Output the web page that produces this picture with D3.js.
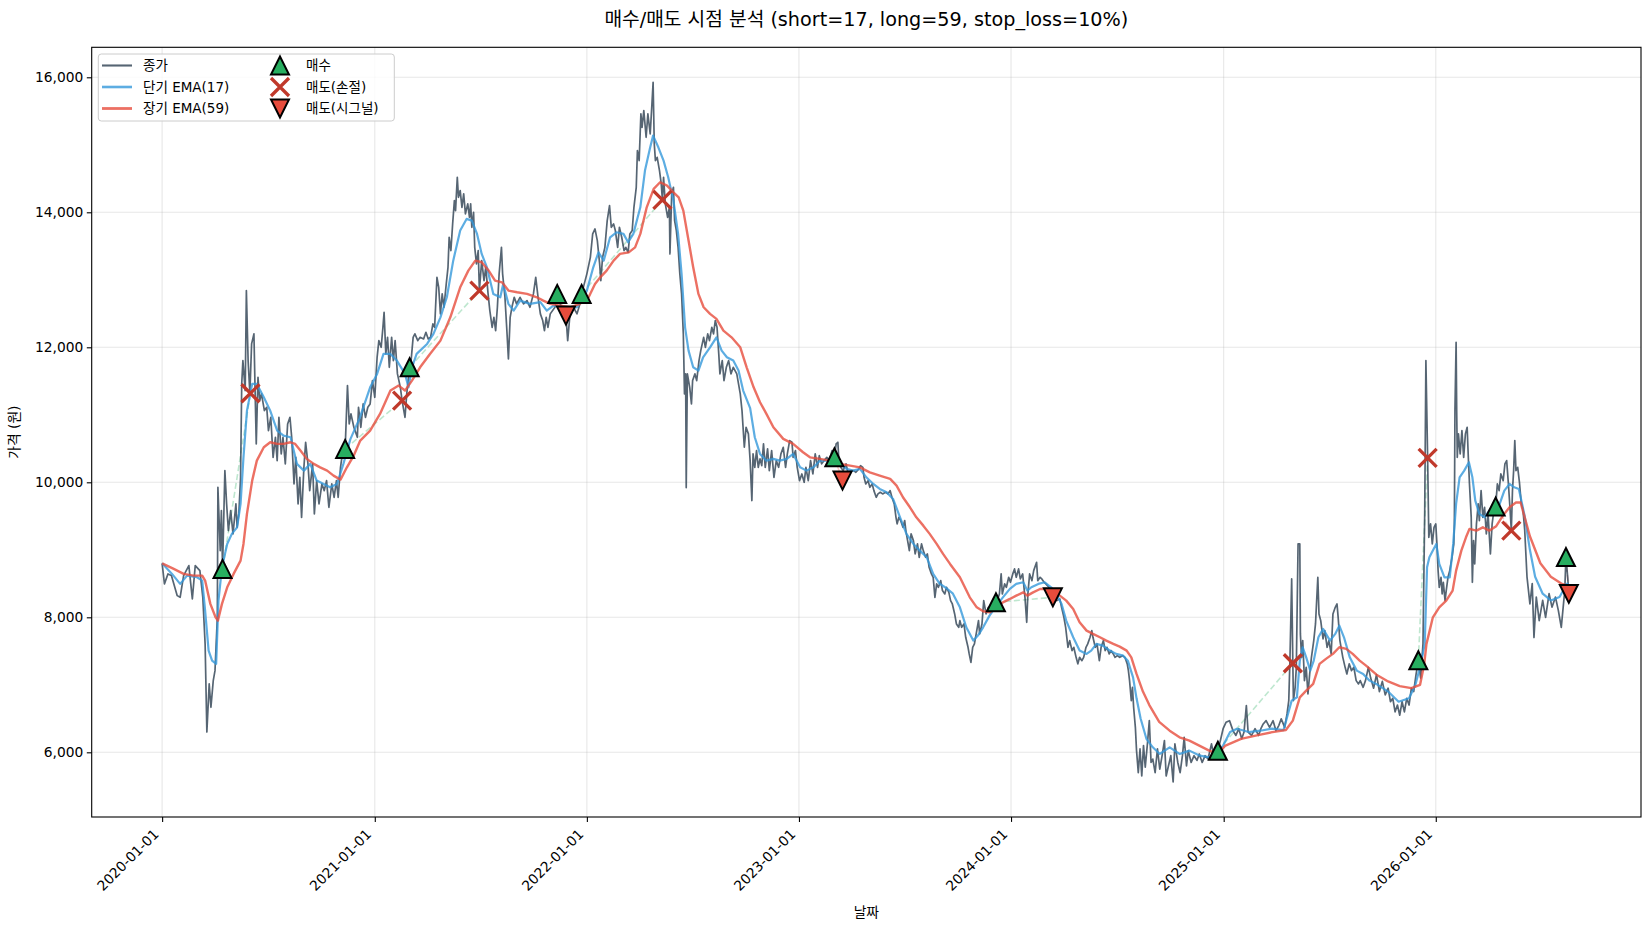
<!DOCTYPE html>
<html lang="ko">
<head>
<meta charset="utf-8">
<title>매수/매도 시점 분석</title>
<script src="https://d3js.org/d3.v7.min.js"></script>
<style>
  body { margin: 0; background: #fff; }
  svg { display: block; font-family: 'DejaVu Sans', 'Noto Sans CJK KR', sans-serif; }
  .grid line { stroke: #b0b0b0; stroke-opacity: 0.3; stroke-width: 1.1; }
  .axis path, .axis line { stroke: #000; stroke-width: 1.1; }
  .axis text { font-size: 13.8px; fill: #000; font-family: 'DejaVu Sans', 'Noto Sans CJK KR', sans-serif; }
  .legend text { font-size: 13.5px; fill: #000; }
</style>
</head>
<body>
<svg id="chart" width="1650" height="930"></svg>
<script>
// [days since baseDate, price]
const baseDate = '2020-01-01';

const closeSeries = [
  [0,8800],[4,8495],[10,8643],[16,8618],[26,8321],[31,8296],[37,8618],[46,8766],[52,8272],[57,8766],[65,8692],[70,8296],[74,7606],[77,6300],[81,7013],[84,6667],[88,7062],[91,7210],[95,8000],[96,9926],[100,8988],[102,9581],[104,8717],[108,10173],[111,9680],[114,9285],[118,9581],[122,9236],[127,9680],[129,9333],[132,9532],[135,10074],[137,11458],[139,11803],[143,11359],[145,12840],[148,11803],[151,11319],[154,12050],[158,12199],[160,11359],[162,10569],[165,11556],[168,11210],[171,11310],[176,11062],[180,11111],[183,10766],[187,10963],[191,10370],[195,10667],[198,10321],[201,10963],[205,10421],[208,10667],[212,10273],[216,10865],[220,10963],[223,10667],[227,9976],[230,10370],[234,9680],[237,10074],[240,9481],[244,10222],[247,10593],[251,10273],[254,9877],[259,10273],[262,9532],[266,10025],[270,9680],[275,9976],[279,9877],[283,10025],[287,9630],[292,9976],[296,9778],[300,10025],[303,9778],[307,10222],[311,10470],[315,10495],[319,11433],[322,10865],[325,11013],[330,10815],[336,10667],
  [338,11111],[342,10815],[346,11161],[350,10963],[354,11111],[358,11161],[362,11507],[366,11259],[370,11852],[373,12099],[377,12000],[380,12296],[382,12519],[385,11902],[388,12148],[391,11704],[395,12148],[398,11803],[401,12099],[405,11606],[410,11407],[413,11210],[418,10963],[421,11310],[424,11556],[426,11704],[428,11754],[432,12148],[435,12199],[440,12099],[444,12148],[450,12124],[454,12222],[458,12124],[462,12148],[466,12347],[469,12296],[473,13037],[476,12889],[479,12495],[482,12791],[485,12593],[489,12939],[492,13185],[494,13630],[497,13433],[500,13828],[503,14173],[505,14025],[508,14519],[510,14222],[513,14322],[516,14074],[519,14273],[522,13976],[526,14125],[529,13926],[531,14125],[533,13778],[536,14000],[538,13481],[541,13236],[544,13433],[546,12840],[550,13284],[554,12988],[557,13185],[561,12791],[564,12544],[568,12296],[571,12444],[574,12247],[577,12593],[580,13088],[584,13481],[586,13088],[590,12741],[593,12296],[596,11828],[599,12444],[602,12593],[606,12741],[610,12643],[616,12741],[622,12643],[628,12692],[633,12593],[639,12791],[643,13037],[647,12741],[651,12495],[655,12396],[658,12247],[661,12444],[664,12296],[668,12495],
  [676,12593],[680,12791],[685,12643],[692,12495],[695,12470],[698,12099],[702,12495],[708,12593],[714,12495],[719,12643],[722,12791],[731,13088],[737,13333],[741,13680],[745,13754],[749,13581],[753,13236],[755,12988],[758,13333],[762,13481],[766,13877],[770,14099],[773,13778],[777,13828],[780,13729],[784,13481],[787,13778],[791,13630],[795,13433],[798,13481],[802,13407],[805,13680],[809,13729],[812,14074],[816,14370],[818,14914],[821,14766],[824,15458],[826,15259],[829,15507],[833,15111],[836,15458],[840,15161],[843,15606],[845,15926],[847,15013],[849,14766],[852,14815],[856,14618],[859,14421],[861,14184],[863,14519],[866,14125],[870,13926],[873,14074],[874,13384],[877,14273],[880,14370],[882,13877],[885,13729],[888,13481],[891,13088],[894,12791],[897,12199],[899,11310],[901,11606],[902,9922],[904,11606],[908,11407],[911,11161],[913,11507],[917,11606],[920,11507],[924,11803],[927,11951],[932,12148],[935,12000],[939,12199],[942,12099],[946,12296],[949,12199],[952,12396],[955,12296],[958,11902],[960,11606],[964,11803],[967,11507],[971,11704],[975,11803],[979,11606],[983,11704],[989,11606],[995,11310],[998,11062],[1002,10519],[1005,10815],[1009,10717],[1012,10321],[1015,9729],
  [1017,10421],[1020,10222],[1023,10470],[1026,10222],[1029,10347],[1032,10247],[1035,10569],[1038,10222],[1042,10495],[1045,10173],[1049,10470],[1053,10074],[1057,10321],[1061,10222],[1065,10421],[1069,10519],[1073,10222],[1076,10421],[1080,10618],[1084,10594],[1086,10370],[1090,10470],[1093,10222],[1097,10025],[1101,10124],[1105,10000],[1108,10222],[1112,10025],[1116,10321],[1120,10124],[1124,10421],[1128,10222],[1131,10395],[1135,10273],[1139,10321],[1144,10370],[1148,10321],[1153,10470],[1157,10370],[1160,10569],[1163,10593],[1165,10273],[1168,10222],[1172,10173],[1177,10273],[1181,10124],[1185,10173],[1190,10173],[1194,10148],[1199,10198],[1202,10247],[1206,10222],[1208,10074],[1211,9976],[1215,10025],[1218,9926],[1222,9976],[1225,9877],[1229,9778],[1232,9828],[1236,9852],[1240,9828],[1245,9852],[1249,9828],[1253,9877],[1256,9778],[1260,9680],[1263,9481],[1265,9384],[1268,9481],[1271,9433],[1275,9333],[1278,9433],[1280,9285],[1283,9136],[1286,8988],[1289,9236],[1293,9136],[1296,8939],[1300,9087],[1303,8889],[1307,9087],[1310,8988],[1314,8889],[1317,8939],[1320,8741],[1324,8643],[1327,8593],[1330,8296],[1333,8495],[1336,8444],[1340,8543],[1343,8396],[1347,8346],[1350,8444],[1354,8370],[1357,8247],[1360,8198],[1364,8050],[1367,7902],[1371,7852],
  [1373,7951],[1376,7852],[1380,7901],[1383,7704],[1387,7556],[1389,7458],[1392,7333],[1395,7556],[1398,7606],[1402,7803],[1405,7951],[1407,7754],[1411,7901],[1414,8247],[1418,8050],[1422,8148],[1425,8099],[1429,8198],[1433,8296],[1435,8222],[1437,8247],[1441,8346],[1444,8643],[1446,8346],[1450,8495],[1453,8445],[1457,8593],[1460,8519],[1464,8643],[1467,8717],[1470,8593],[1474,8717],[1477,8568],[1481,8643],[1485,8296],[1488,7926],[1490,8346],[1493,8643],[1497,8543],[1500,8692],[1505,8815],[1507,8543],[1511,8593],[1514,8568],[1518,8519],[1521,8495],[1526,8445],[1529,8370],[1532,8296],[1536,8273],[1540,8247],[1545,8273],[1548,8148],[1552,8000],[1555,7852],[1559,7556],[1562,7655],[1566,7507],[1569,7556],[1573,7407],[1576,7310],[1579,7407],[1583,7358],[1586,7407],[1590,7556],[1593,7606],[1597,7704],[1600,7803],[1602,7704],[1606,7556],[1609,7606],[1613,7358],[1616,7556],[1620,7655],[1623,7507],[1626,7556],[1630,7458],[1633,7507],[1637,7458],[1640,7407],[1644,7432],[1648,7407],[1653,7432],[1657,7407],[1661,7310],[1663,7210],[1665,7062],[1668,6766],[1670,6963],[1672,6667],[1675,6370],[1677,6025],
  [1680,5700],[1683,6050],[1686,5650],[1689,6100],[1692,5780],[1696,6150],[1699,6469],[1702,5850],[1705,5900],[1709,5700],[1713,6050],[1717,5750],[1721,5950],[1725,6173],[1728,5650],[1732,5800],[1736,5950],[1740,5560],[1743,6124],[1748,5850],[1752,5700],[1756,5950],[1759,6222],[1763,5800],[1766,6025],[1771,5850],[1776,5950],[1781,5880],[1785,5976],[1790,5850],[1795,5950],[1800,5900],[1806,6124],[1810,5950],[1813,5900],[1817,6020],
  [1822,6200],[1826,6350],[1831,6444],[1837,6469],[1843,6321],[1848,6250],[1853,6350],[1858,6200],[1862,6300],[1866,6691],[1869,6300],[1875,6250],[1881,6350],[1887,6250],[1891,6350],[1895,6420],[1900,6469],[1906,6370],[1912,6469],[1917,6321],[1922,6400],[1926,6495],[1932,6370],[1936,6569],[1939,6766],[1941,7358],[1944,8569],[1946,7319],[1947,6766],[1950,6963],[1952,7259],[1955,9087],[1958,9087],[1959,7754],[1961,7407],[1963,7655],[1966,7062],[1969,7259],[1972,6865],[1975,7161],[1978,7407],[1982,7655],[1985,7902],[1989,8593],[1991,8050],[1994,7951],[1998,7680],[2001,7803],[2005,7556],[2008,7655],[2012,7458],[2015,8050],[2019,8148],[2022,8198],[2024,8000],[2027,7655],[2029,7556],[2032,7407],[2036,7259],[2039,7161],[2043,7310],[2047,7210],[2051,7259],[2055,7062],[2059,7013],[2062,7062],[2067,6963],[2071,7062],[2076,7259],
  [2080,7100],[2085,6950],[2090,7150],[2095,6900],[2100,7050],[2105,6850],[2110,6950],[2114,6750],[2118,6800],[2122,6600],[2126,6700],[2130,6550],[2134,6750],[2138,6600],[2142,6800],[2146,6700],[2150,6950],[2154,6900],[2158,7150],[2162,7364],[2166,7100],[2170,7606],[2173,9581],[2175,11803],[2178,10361],[2180,9185],[2183,9384],[2186,9087],[2189,9333],[2192,9384],[2194,9087],[2196,8692],[2198,8444],[2201,8593],[2203,8347],[2205,8519],[2208,8247],[2210,8395],[2213,8593],[2216,8692],[2218,8791],[2220,8889],[2223,9087],[2224,9384],[2225,11062],[2227,12074],[2228,11062],[2229,10370],[2231,10717],[2234,10421],[2237,10766],[2240,10370],[2243,10717],[2246,10815],[2248,10370],[2250,9976],[2253,9481],[2255,8519],[2257,9136],[2259,8790],[2262,9384],[2265,9680],[2267,9433],[2270,9877],[2273,9481],[2276,9630],[2279,9236],[2282,9532],[2286,8939],[2289,9384],[2292,9581],[2295,9640],[2298,9976],[2301,9877],[2304,10124],[2308,10025],[2311,10273],[2314,10322],[2317,9976],[2320,9581],[2322,9284],[2324,9877],[2326,10173],[2328,10618],[2330,10173],[2333,10222],[2336,10000],[2339,9700],[2342,9600],[2345,9300],[2349,8600],[2354,8200],[2358,8500],[2361,7700],[2365,8300],[2370,7950],[2376,8250],[2381,8000],[2387,8350],[2392,8150],[2398,8300],[2403,8100],[2408,7850],[2414,8400],[2416,8892],[2419,8600],[2421,8347],[2424,8400]
];

const emaShort = [
  [0,8800],[17,8643],[31,8495],[43,8618],[60,8593],[69,8544],[74,8099],[80,7507],[86,7358],[93,7310],[97,8247],[103,8741],[112,9087],[120,9236],[129,9333],[135,9680],[140,10370],[146,11062],[155,11458],[163,11458],[175,11259],[186,11062],[198,10766],[209,10692],[221,10667],[232,10273],[244,10173],[255,10273],[266,10025],[278,9976],[289,9926],[301,9976],[312,10273],[324,10640],[340,10950],[358,11407],[370,11606],[381,11902],[393,11902],[404,11803],[418,11606],[424,11407],[430,11704],[438,11902],[456,12050],[467,12199],[479,12444],[490,12741],[501,13284],[513,13729],[524,13902],[533,13877],[542,13680],[550,13384],[559,13185],[570,12791],[582,12741],[587,12939],[596,12643],[605,12544],[616,12692],[633,12643],[651,12670],[662,12544],[674,12620],[696,12569],[714,12593],[731,12840],[742,13185],[751,13407],[760,13284],[771,13630],[782,13704],[794,13680],[802,13556],[811,13680],[823,14074],[831,14618],[840,14963],[845,15136],[854,14963],[863,14766],[871,14519],[880,14173],[888,13680],[894,13088],[900,12296],[906,11951],[914,11704],[923,11655],[931,11852],[943,12000],[954,12148],[963,11951],[972,11852],[983,11803],[992,11655],[1000,11359],[1012,11100],[1020,10667],[1029,10421],[1040,10321],[1052,10347],[1063,10321],[1075,10347],[1086,10421],[1098,10222],[1109,10173],[1121,10222],[1132,10321],[1144,10321],[1155,10347],[1166,10273],[1178,10199],[1189,10173],[1201,10199],[1212,10074],[1224,9976],[1235,9902],[1247,9852],[1258,9754],[1270,9481],[1281,9236],[1293,9087],[1304,8988],[1316,8889],[1327,8643],[1338,8500],[1350,8430],[1361,8350],[1373,8148],[1384,7852],[1396,7655],[1404,7729],[1413,7852],[1424,8025],[1436,8173],[1447,8296],[1459,8421],[1470,8495],[1482,8519],[1489,8396],[1496,8445],[1508,8495],[1519,8519],[1530,8445],[1539,8347],[1548,8198],[1556,7951],[1568,7704],[1579,7507],[1591,7458],[1599,7507],[1608,7606],[1619,7581],[1631,7507],[1642,7458],[1654,7432],[1662,7358],[1671,7111],[1677,6800],[1684,6500],[1694,6200],[1705,6074],[1717,5976],[1734,6074],[1751,5976],[1768,6025],[1786,5950],[1803,5926],[1815,5980],[1826,6100],[1838,6300],[1850,6350],[1870,6300],[1890,6320],[1910,6350],[1930,6330],[1944,6766],[1953,6815],[1958,7358],[1963,7556],[1969,7407],[1976,7210],[1982,7358],[1990,7704],[1998,7828],[2010,7655],[2019,7754],[2026,7877],[2034,7704],[2044,7407],[2056,7210],[2067,7161],[2078,7062],[2092,7000],[2110,6900],[2128,6750],[2146,6800],[2157,7000],[2166,7300],[2173,7606],[2177,8741],[2181,8889],[2187,8988],[2193,9087],[2198,8791],[2207,8593],[2216,8593],[2222,9087],[2227,9680],[2233,10074],[2241,10173],[2249,10296],[2255,10074],[2260,9729],[2267,9532],[2276,9481],[2284,9581],[2293,9532],[2302,9680],[2310,9877],[2319,9976],[2327,9926],[2335,9900],[2345,9500],[2354,9000],[2363,8600],[2376,8350],[2390,8250],[2405,8300],[2418,8500],[2424,8450]
];

const emaLong = [
  [0,8800],[20,8717],[37,8643],[54,8618],[69,8618],[74,8544],[83,8199],[92,8000],[96,7951],[103,8199],[112,8444],[123,8643],[135,8840],[140,9087],[146,9532],[155,10025],[163,10321],[175,10519],[186,10593],[198,10569],[209,10569],[221,10593],[229,10569],[238,10470],[249,10347],[261,10273],[272,10222],[284,10173],[295,10099],[307,10040],[318,10222],[330,10400],[341,10618],[358,10766],[375,11013],[393,11359],[407,11433],[418,11359],[430,11507],[444,11704],[461,11902],[479,12099],[496,12444],[513,12889],[527,13136],[539,13284],[550,13260],[562,13136],[573,12988],[585,12963],[596,12840],[611,12815],[628,12791],[645,12741],[656,12692],[668,12643],[685,12618],[702,12593],[719,12643],[734,12741],[745,12939],[754,13037],[765,13136],[777,13284],[788,13384],[803,13407],[814,13481],[823,13680],[834,14074],[846,14347],[857,14445],[869,14396],[880,14296],[889,14222],[897,14025],[906,13581],[914,13185],[923,12791],[932,12593],[943,12495],[954,12421],[966,12247],[980,12148],[995,12000],[1006,11704],[1018,11407],[1029,11186],[1040,11013],[1052,10815],[1069,10643],[1086,10569],[1103,10445],[1115,10370],[1132,10347],[1149,10321],[1167,10273],[1184,10247],[1201,10222],[1218,10148],[1235,10099],[1253,10050],[1264,9951],[1275,9778],[1287,9630],[1298,9481],[1310,9358],[1321,9236],[1333,9087],[1344,8939],[1356,8791],[1373,8593],[1390,8296],[1402,8148],[1413,8089],[1425,8074],[1436,8148],[1447,8222],[1459,8272],[1470,8321],[1482,8370],[1489,8321],[1499,8370],[1511,8420],[1522,8420],[1533,8396],[1545,8321],[1556,8247],[1568,8123],[1579,7926],[1591,7803],[1602,7754],[1614,7704],[1625,7655],[1637,7606],[1648,7566],[1660,7507],[1668,7407],[1677,7161],[1688,6900],[1699,6700],[1716,6450],[1734,6321],[1751,6222],[1768,6173],[1785,6099],[1802,6025],[1817,5976],[1830,6100],[1857,6200],[1884,6250],[1911,6300],[1934,6330],[1946,6469],[1958,6815],[1969,6914],[1981,7013],[1992,7310],[2003,7384],[2015,7458],[2026,7556],[2038,7532],[2049,7458],[2061,7358],[2072,7284],[2090,7150],[2110,7050],[2130,6980],[2150,6950],[2165,7000],[2172,7300],[2176,7606],[2187,8000],[2198,8148],[2210,8247],[2221,8395],[2227,8692],[2236,8988],[2244,9185],[2250,9310],[2262,9284],[2273,9333],[2284,9284],[2296,9350],[2307,9500],[2319,9630],[2330,9700],[2338,9700],[2354,9200],[2372,8800],[2390,8600],[2408,8500],[2424,8450]
];

const buyPoints = [[104,8717],[315,10495],[426,11704],[680,12791],[722,12791],[1157,10370],[1435,8222],[1817,6024],[2162,7364],[2295,9640],[2416,8892]];
const stopLossPoints = [[152,11319],[413,11210],[546,12840],[861,14184],[1946,7319],[2178,10361],[2322,9284]];
const signalSellPoints = [[695,12470],[1171,10025],[1533,8296],[2421,8347]];

const yTicks = [6000, 8000, 10000, 12000, 14000, 16000];
const xTickLabels = ['2020-01-01', '2021-01-01', '2022-01-01', '2023-01-01', '2024-01-01', '2025-01-01', '2026-01-01'];
const lineLabels = ['종가', '단기 EMA(17)', '장기 EMA(59)'];
const markerLabels = ['매수', '매도(손절)', '매도(시그널)'];
const titleText = '매수/매도 시점 분석 (short=17, long=59, stop_loss=10%)';

const svg = d3.select('#chart');
const plotLeft = 91.7, plotRight = 1641, plotTop = 47.3, plotBottom = 817;
const t0 = Date.parse(baseDate);
const toDate = d => new Date(t0 + d * 864e5);

// matplotlib-like 5% margins
const dayMin = d3.min(closeSeries, d => d[0]), dayMax = d3.max(closeSeries, d => d[0]);
const padX = (dayMax - dayMin) * 0.05;
const x = d3.scaleUtc().domain([toDate(dayMin - padX), toDate(dayMax + padX)]).range([plotLeft, plotRight]);
const allVals = closeSeries.concat(emaShort, emaLong).map(d => d[1]);
const vMin = d3.min(allVals), vMax = d3.max(allVals);
const padY = (vMax - vMin) * 0.05;
const y = d3.scaleLinear().domain([vMin - padY, vMax + padY]).range([plotBottom, plotTop]);

const xTickDates = xTickLabels.map(s => new Date(s));

// grid
const grid = svg.append('g').attr('class', 'grid');
grid.selectAll('.gx').data(xTickDates).enter().append('line')
  .attr('x1', d => x(d)).attr('x2', d => x(d)).attr('y1', plotTop).attr('y2', plotBottom);
grid.selectAll('.gy').data(yTicks).enter().append('line')
  .attr('x1', plotLeft).attr('x2', plotRight).attr('y1', d => y(d)).attr('y2', d => y(d));

svg.append('clipPath').attr('id', 'plot').append('rect')
  .attr('x', plotLeft).attr('y', plotTop).attr('width', plotRight - plotLeft).attr('height', plotBottom - plotTop);
const plot = svg.append('g').attr('clip-path', 'url(#plot)');

// trade lines: each buy joined to the next sell
const sells = stopLossPoints.concat(signalSellPoints).sort((a, b) => a[0] - b[0]);
const trades = buyPoints.map(b => [b, sells.find(s => s[0] > b[0])]).filter(t => t[1]);
plot.selectAll('.trade').data(trades).enter().append('line')
  .attr('x1', d => x(toDate(d[0][0]))).attr('y1', d => y(d[0][1]))
  .attr('x2', d => x(toDate(d[1][0]))).attr('y2', d => y(d[1][1]))
  .attr('stroke', d => d[1][1] >= d[0][1] ? '#27ae60' : '#e74c3c')
  .attr('stroke-opacity', 0.3).attr('stroke-width', 1.6).attr('stroke-dasharray', '6,3');

const line = d3.line().x(d => x(toDate(d[0]))).y(d => y(d[1]));
const series = [
  { data: closeSeries, color: '#2c3e50', width: 1.7 },
  { data: emaShort, color: '#3498db', width: 2.2 },
  { data: emaLong, color: '#e74c3c', width: 2.4 }
];
plot.selectAll('.serie').data(series).enter().append('path')
  .attr('d', d => line(d.data)).attr('fill', 'none')
  .attr('stroke', d => d.color).attr('stroke-opacity', 0.8)
  .attr('stroke-width', d => d.width).attr('stroke-linejoin', 'round');

// markers
const h = 9;
const triUp = `M0,${-h}L${-h},${h}L${h},${h}Z`;
const triDown = `M0,${h}L${-h},${-h}L${h},${-h}Z`;
const cross = `M${-h},${-h}L${h},${h}M${-h},${h}L${h},${-h}`;
const drawBuy = g => g.append('path').attr('d', triUp).attr('fill', '#27ae60')
  .attr('stroke', '#000').attr('stroke-width', 2).attr('stroke-linejoin', 'miter');
const drawStop = g => g.append('path').attr('d', cross).attr('fill', 'none')
  .attr('stroke', '#c0392b').attr('stroke-width', 3.3);
const drawSignal = g => g.append('path').attr('d', triDown).attr('fill', '#e74c3c')
  .attr('stroke', '#000').attr('stroke-width', 2).attr('stroke-linejoin', 'miter');

const markerSets = [[buyPoints, drawBuy], [stopLossPoints, drawStop], [signalSellPoints, drawSignal]];
markerSets.forEach(([pts, draw]) => {
  pts.forEach(p => {
    const g = plot.append('g').attr('transform', `translate(${x(toDate(p[0]))},${y(p[1])})`);
    draw(g);
  });
});

// axes
const xAxis = d3.axisBottom(x).tickValues(xTickDates).tickFormat(d3.utcFormat('%Y-%m-%d'))
  .tickSize(4.9).tickSizeOuter(0);
svg.append('g').attr('class', 'axis').attr('transform', `translate(0,${plotBottom})`).call(xAxis)
  .call(g => g.select('.domain').remove())
  .selectAll('text').attr('x', 0).attr('y', 0).attr('dy', 0)
  .attr('text-anchor', 'end').attr('transform', 'translate(-3,18) rotate(-45)');

const yAxis = d3.axisLeft(y).tickValues(yTicks).tickFormat(d3.format(','))
  .tickSize(4.9).tickPadding(3.5).tickSizeOuter(0);
svg.append('g').attr('class', 'axis').attr('transform', `translate(${plotLeft},0)`).call(yAxis)
  .call(g => g.select('.domain').remove());

svg.append('rect').attr('x', plotLeft).attr('y', plotTop)
  .attr('width', plotRight - plotLeft).attr('height', plotBottom - plotTop)
  .attr('fill', 'none').attr('stroke', '#000').attr('stroke-width', 1.1);

// titles
svg.append('text').attr('x', (plotLeft + plotRight) / 2).attr('y', 26).attr('text-anchor', 'middle')
  .attr('font-size', 19.2).text(titleText);
svg.append('text').attr('x', (plotLeft + plotRight) / 2).attr('y', 917).attr('text-anchor', 'middle')
  .attr('font-size', 13.8).text('날짜');
svg.append('text').attr('transform', `translate(19,${(plotTop + plotBottom) / 2}) rotate(-90)`)
  .attr('text-anchor', 'middle').attr('font-size', 13.8).text('가격 (원)');

// legend
const legend = svg.append('g').attr('class', 'legend');
legend.append('rect').attr('x', 98.3).attr('y', 54).attr('width', 296).attr('height', 67)
  .attr('rx', 3).attr('fill', '#fff').attr('fill-opacity', 0.8).attr('stroke', '#cccccc');
const rowY = [65.5, 87, 108.5];
lineLabels.forEach((label, i) => {
  legend.append('line').attr('x1', 102).attr('x2', 132).attr('y1', rowY[i]).attr('y2', rowY[i])
    .attr('stroke', series[i].color).attr('stroke-opacity', 0.8).attr('stroke-width', series[i].width + 0.4);
  legend.append('text').attr('x', 143).attr('y', rowY[i] + 4.8).text(label);
});
markerLabels.forEach((label, i) => {
  const g = legend.append('g').attr('transform', `translate(280,${rowY[i]})`);
  markerSets[i][1](g);
  legend.append('text').attr('x', 306).attr('y', rowY[i] + 4.8).text(label);
});
</script>
</body>
</html>
